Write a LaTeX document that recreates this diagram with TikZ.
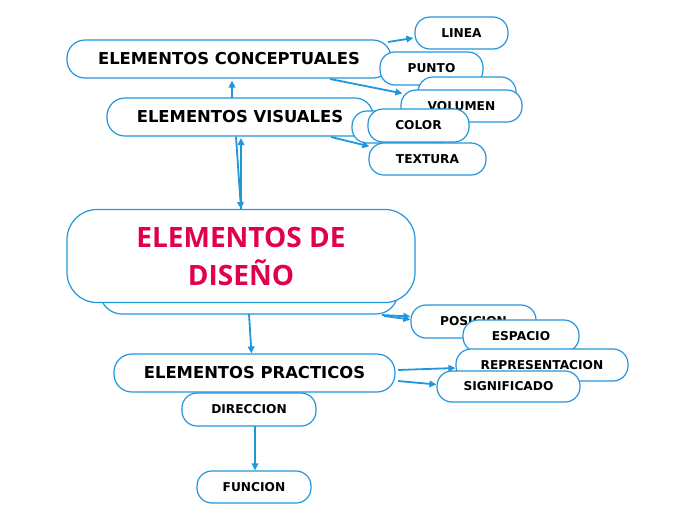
\documentclass[tikz,border=0pt]{standalone}
\usepackage{fontspec}
\setmainfont{DejaVu Sans}
\newfontfamily\titlefont{Open Sans}
\usetikzlibrary{arrows.meta,calc}
\definecolor{mapblue}{HTML}{2196DC}
\definecolor{mapred}{HTML}{E2004E}
\tikzset{
  topic/.style={draw=mapblue, line width=1.2pt, fill=white, rounded corners=18pt,
    font=\fontsize{16.4}{19}\selectfont\bfseries, inner sep=0pt},
  leaf/.style={draw=mapblue, line width=1.2pt, fill=white, rounded corners=15pt,
    font=\fontsize{12.2}{14}\selectfont\bfseries, inner sep=0pt},
  link/.style={draw=mapblue, line width=1.8pt, -{Triangle[length=7pt,width=6.5pt]}}
}
\begin{document}
\begin{tikzpicture}[x=1pt, y=-1pt]
  \useasboundingbox (0,0) rectangle (696,520);

  % connectors go first, boxes are drawn over them
  \coordinate (c1) at (388,42);
  \coordinate (c3) at (330,79);
  \coordinate (v1) at (232,98);
  \coordinate (v2) at (331,137);
  \coordinate (v3) at (236,137);
  \coordinate (v4) at (241,138);
  \coordinate (m1) at (241,209);
  \coordinate (m2) at (249,314);
  \coordinate (m3) at (382,315);
  \coordinate (m4) at (384,316);
  \coordinate (p1) at (398,370);
  \coordinate (p2) at (398,381);
  \coordinate (d1) at (255,426);

  % top group
  \node[leaf, minimum width=93, minimum height=32] (linea) at (461.5,33) {LINEA};
  \node[topic, minimum width=324, minimum height=38] (concep) at (229,59) {ELEMENTOS CONCEPTUALES};
  \node[leaf, minimum width=103, minimum height=33] (punto) at (431.5,68.5) {PUNTO};
  \node[leaf, minimum width=98, minimum height=32] (volback) at (467,93) {};
  \node[leaf, minimum width=121, minimum height=32] (volumen) at (461.5,106) {VOLUMEN};
  \node[topic, minimum width=266, minimum height=38] (visual) at (240,117) {ELEMENTOS VISUALES};
  \node[leaf, minimum width=100, minimum height=32] (colback) at (402,127) {};
  \node[leaf, minimum width=101, minimum height=33] (color) at (418.5,125.5) {COLOR};
  \node[leaf, minimum width=117, minimum height=32] (textura) at (427.5,159) {TEXTURA};

  % centre
  \node[topic, rounded corners=22pt, minimum width=298, minimum height=44] (mainsh) at (249,292) {};
  \node[topic, rounded corners=30pt, minimum width=348, minimum height=93, align=center,
    text=mapred, font=\titlefont\fontsize{28}{38}\selectfont\bfseries] (main) at (241,256)
    {ELEMENTOS DE\\DISEÑO};

  % bottom group
  \node[leaf, minimum width=125, minimum height=33] (posicion) at (473.5,321.5) {POSICION};
  \node[leaf, minimum width=116, minimum height=32] (espacio) at (521,336) {ESPACIO};
  \node[leaf, minimum width=172, minimum height=32] (repre) at (542,365) {REPRESENTACION};
  \node[leaf, minimum width=143, minimum height=31] (signif) at (508.5,386.5) {SIGNIFICADO};
  \node[topic, minimum width=281, minimum height=38] (practicos) at (254.5,373) {ELEMENTOS PRACTICOS};
  \node[leaf, minimum width=134, minimum height=33] (direccion) at (249,409.5) {DIRECCION};
  \node[leaf, minimum width=114, minimum height=32] (funcion) at (254,487) {FUNCION};

  % arrows
  \draw[link] (c1) -- ($(linea.west)+(-1,5)$);
  \draw[link] (v1) -- ($(concep.south)+(3,2)$);
  \draw[link] (v2) -- ($(textura.north west)+(1,4)$);
  \draw[link] (c3) -- ($(volumen.north west)+(2,4)$);
  \draw[link] (v3) -- (m1);
  \draw[link] (m1) -- (v4);
  \draw[link] (m2) -- ($(practicos.north)+(-3,0)$);
  \draw[link] (m3) -- ($(posicion.west)+(0,-5)$);
  \draw[link] (m4) -- ($(posicion.west)+(0,-2)$);
  \draw[link] (p1) -- ($(repre.west)+(0,3)$);
  \draw[link] (p2) -- ($(signif.west)+(0,-2)$);
  \draw[link] (d1) -- ($(funcion.north)+(1,0)$);
\end{tikzpicture}
\end{document}
